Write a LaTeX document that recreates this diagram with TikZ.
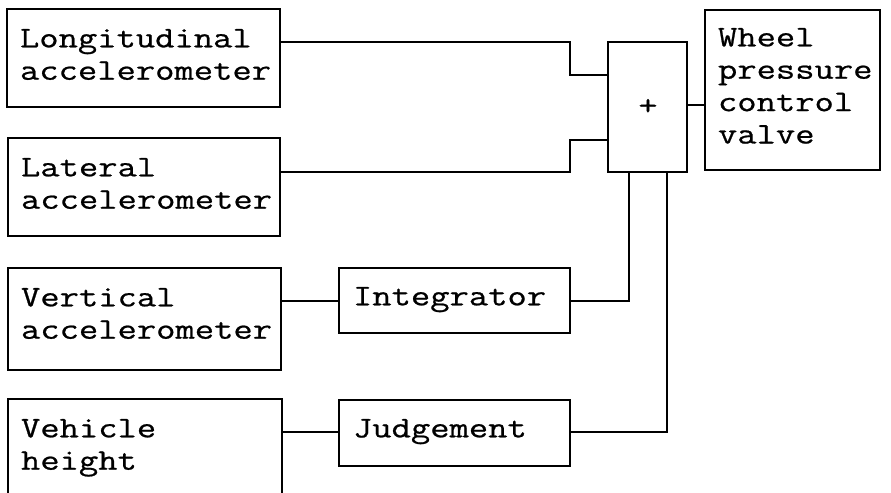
\documentclass[tikz,border=0pt]{standalone}
\usepackage{fontspec}
\setmonofont{Latin Modern Mono}[FakeStretch=1.25,FakeBold=0.7]
\usetikzlibrary{fit}
\begin{document}
\begin{tikzpicture}[x=0.5pt,y=-0.5pt,line width=1.1pt,
  blk/.style={draw,inner sep=0pt},
  txt/.style={font=\ttfamily\fontsize{15}{16.2}\selectfont},
  lbl/.style={txt,align=left,anchor=north west,inner sep=0pt}]
\useasboundingbox (0,0) rectangle (891,493);
% blocks
\node[blk,fit={(7,9) (280,107)}] (lon) {};
\node[blk,fit={(8,138) (280,236)}] (lat) {};
\node[blk,fit={(8,268) (281,370)}] (ver) {};
\node[blk,fit={(8,399) (282,530)}] (veh) {};
\node[blk,fit={(339,268) (570,333)}] (int) {};
\node[blk,fit={(339,400) (570,466)}] (jud) {};
\node[blk,fit={(608,42) (687,172)}] (sum) {};
\node[blk,fit={(705,10) (880,170)}] (whl) {};
% labels
\node[lbl] (lonT) at ([shift={(13,20)}]lon.north west) {Longitudinal\\accelerometer};
\node[lbl] (latT) at ([shift={(13,20)}]lat.north west) {Lateral\\accelerometer};
\node[lbl] (verT) at ([shift={(13,20)}]ver.north west) {Vertical\\accelerometer};
\node[lbl] (vehT) at ([shift={(13,20)}]veh.north west) {Vehicle\\height};
\node[lbl] (intT) at ([shift={(14,19)}]int.north west) {Integrator};
\node[lbl] (judT) at ([shift={(14,19)}]jud.north west) {Judgement};
\node[lbl] (whlT) at ([shift={(13,18)}]whl.north west) {Wheel\\pressure\\control\\valve};
\node[txt] (plus) at (648,107) {+};
% connectors
\draw (lon.east |- 0,42) -- (570,42) |- (sum.west |- 0,75);
\draw (lat.east |- 0,172) -- (570,172) |- (sum.west |- 0,140);
\draw (ver.east |- 0,301) -- (int.west |- 0,301);
\draw (int.east |- 0,301) -| (sum.south -| 629,0);
\draw (veh.east |- 0,432) -- (jud.west |- 0,432);
\draw (jud.east |- 0,432) -| (sum.south -| 667,0);
\draw (sum.east |- 0,105) -- (whl.west |- 0,105);
\end{tikzpicture}
\end{document}
